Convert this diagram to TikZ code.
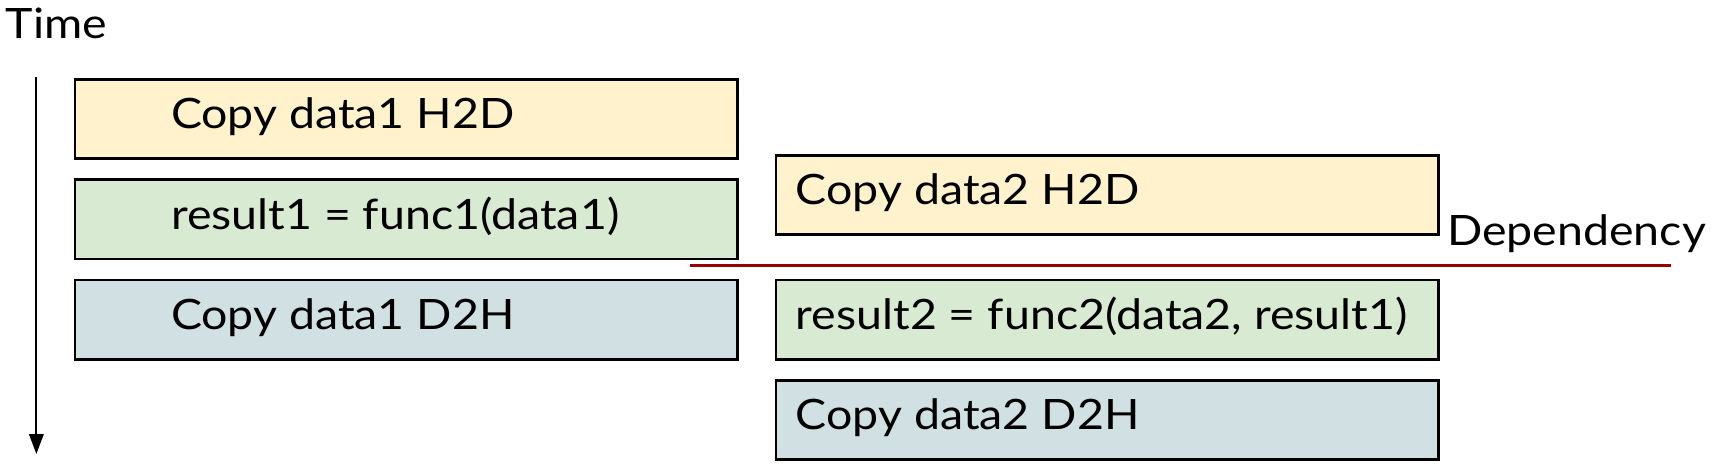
\documentclass[tikz,border=0pt]{standalone}
\usepackage{fontspec}
\setmainfont{Lato}[FakeStretch=1.11]
\usetikzlibrary{arrows.meta}
\definecolor{cyellow}{HTML}{FFF2CC}
\definecolor{cgreen}{HTML}{D9EAD3}
\definecolor{cblue}{HTML}{D0E0E3}
\definecolor{cred}{HTML}{990000}
\tikzset{
  task/.style={draw=black, line width=2.4pt, minimum width=601pt, minimum height=72pt, inner sep=0pt},
  lbl/.style={anchor=base west, inner sep=0pt, font=\fontsize{38}{44}\selectfont},
}
\begin{document}
\begin{tikzpicture}[x=1pt,y=-1pt]
\useasboundingbox (0,0) rectangle (1568,431);
\node[lbl] (time) at (5,35) {Time};
\coordinate (ta) at (33,70);
\coordinate (tb) at (33,412);
\draw[line width=2pt, -{Triangle[length=18pt,width=13pt]}] (ta) -- (tb);
% left column
\node[task, fill=cyellow] (b1) at (368.5,108) {};
\node[task, fill=cgreen] (b2) at (368.5,199) {};
\node[task, fill=cblue] (b3) at (368.5,290) {};
% right column
\node[task, fill=cyellow] (b4) at (1004.5,177) {};
\node[task, fill=cgreen] (b5) at (1004.5,290) {};
\node[task, fill=cblue] (b6) at (1004.5,381) {};
% texts
\node[lbl] (t1) at (155,117) {Copy data1 H2D};
\node[lbl] (t2) at (155,208) {result1 = func1(data1)};
\node[lbl] (t3) at (155,299) {Copy data1 D2H};
\node[lbl] (t4) at (722,186) {Copy data2 H2D};
\node[lbl] (t5) at (722,299) {result2 = func2(data2, result1)};
\node[lbl] (t6) at (722,390) {Copy data2 D2H};
% dependency
\coordinate (da) at (626,241);
\coordinate (db) at (1516,241);
\draw[cred, line width=2.2pt] (da) -- (db);
\node[lbl] (dep) at (1313,223) {Dependency};
\end{tikzpicture}
\end{document}
